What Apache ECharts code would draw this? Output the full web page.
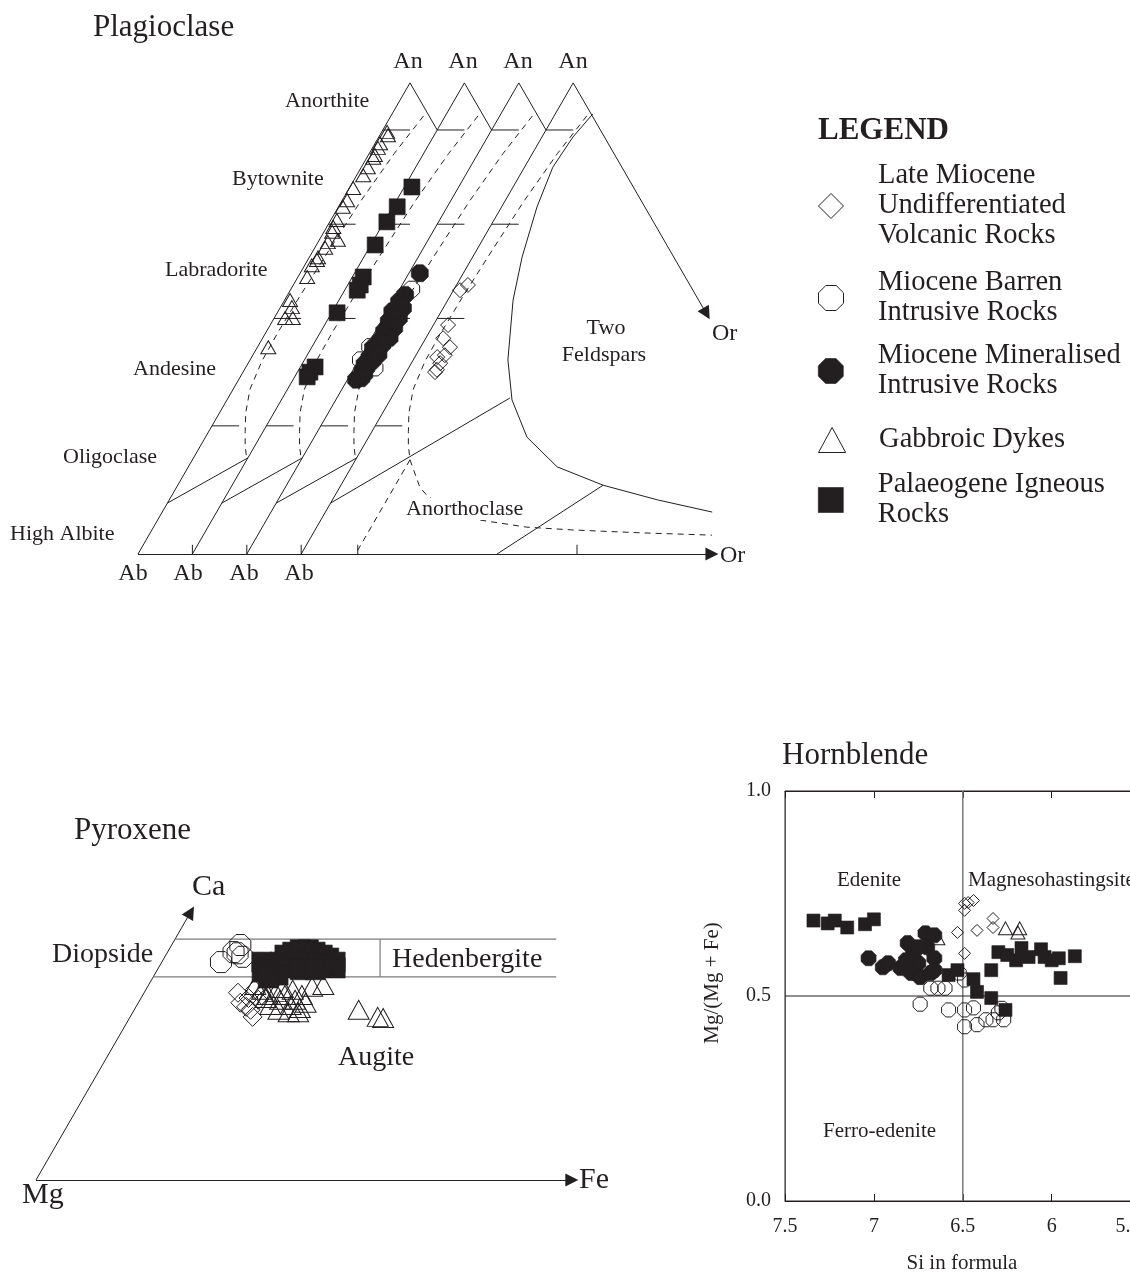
<!DOCTYPE html>
<html><head><meta charset="utf-8">
<script src="https://cdn.jsdelivr.net/npm/echarts@6/dist/echarts.min.js"></script>
<style>html,body{margin:0;padding:0;background:#fff}#c{width:1130px;height:1274px}</style>
</head><body><div id="c"></div>
<script>
// ================= DATA =================
// Plagioclase compositions [An %, Or %]; each rock group is drawn in its own offset Ab-An-Or triangle
const plagGabbroicDykes = [[89.6,1.0],[88.9,1.5],[87.2,0.9],[86.2,1.0],[84.7,1.2],[84.1,1.2],[82.1,1.2],[80.4,1.2],[77.7,0.7],[75.1,0.9],[73.7,0.8],[70.9,1.1],[69.4,1.2],[68.4,1.5],[66.7,3.4],[66.2,1.8],[65.0,1.9],[63.0,1.6],[62.4,1.7],[61.3,1.3],[58.8,1.7],[53.9,1.0],[52.4,2.1],[50.1,2.0],[50.1,3.4],[43.9,2.0]];
const plagPalaeogene = [[77.9,1.4],[73.7,0.8],[70.5,0.5],[65.6,0.8],[58.8,2.0],[57.1,2.3],[56.0,2.3],[51.2,1.0],[39.7,2.7],[38.6,2.3],[37.6,2.3]];
const plagMioMineralised = [[59.6,2.0],[55.0,1.6],[53.6,1.2],[52.9,1.7],[52.2,2.6],[51.5,1.0],[50.8,2.0],[50.1,2.9],[49.4,1.4],[48.7,2.3],[48.0,3.1],[47.3,1.6],[46.6,2.5],[45.9,3.3],[45.2,1.8],[44.5,2.7],[43.8,1.3],[43.1,2.2],[42.4,3.0],[41.7,1.7],[41.0,2.6],[40.3,1.5],[39.6,2.2],[38.9,1.8],[38.2,2.5],[37.3,2.4],[37.0,1.6]];
const plagMioBarren = [[56.2,2.2],[44.0,0.6],[41.2,0.3],[39.5,3.8]];
const plagLateMiocene = [[57.1,2.1],[56.0,1.2],[48.6,2.7],[45.8,3.2],[43.9,5.4],[42.2,5.3],[41.8,4.1],[40.5,5.3],[39.1,5.4],[38.6,5.3]];
// triangle used by each group (0 = leftmost)
const plagTriangleOf = {gab:0, pal:1, min:2, bar:2, late:3};

// Plagioclase field boundaries [An %, Or %]
const plagSolvus = [[93,6],[85,4.6],[75,3.5],[65,2.9],[55,2.4],[47,2.2],[41,2.3],[35,3.1],[30,4.8],[26,6.7],[23,8.2],[20,10]];
const plagTwoFeldspar = [[93.4,6.9],[88.5,5.7],[82.1,5.2],[73.7,6.5],[63.0,9.1],[53.9,12.0],[41.2,17.4],[32.7,22.4],[24.8,29.1],[18.5,37.8],[14.6,48.2],[11.5,59.7],[8.9,71.1]];
const plagAnorthoclaseSolvus = [[20,10],[14.2,14.7],[12.1,17.3],[7.2,29.3],[5.7,38.6],[5.1,47.4],[4.5,60.1],[4.0,73.5]];
const plagIsoOr = [[20,10],[0,10]];
const plagOligoclaseLine = [[10.8,0],[20.4,10]];
const plagOligoclaseLineLast = [[10.8,0],[33.1,21.8]];
const plagAnorthoclaseLine = [[0,36],[14.6,48.2]];
const plagClassAn = [90,70,50,27.2];
const plagBaseTicksOr = [10,20,30,40.4,80.7];

// Pyroxene compositions [Ca %, Fe %]
const pyxBarren = [[39.9,10.1],[38.5,10.4],[37.0,8.7],[37.9,11.4],[38.7,9.7]];
const pyxPalaeogene = [[35.3,15.6],[37.0,14.7],[36.2,16.0],[35.7,17.3],[37.0,17.4],[38.2,17.5],[38.7,18.4],[39.1,19.3],[39.1,20.5],[38.7,21.7],[38.2,23.0],[37.7,24.2],[37.0,25.5],[36.0,26.0],[36.5,23.9],[37.0,21.8],[37.0,20.0],[36.0,19.1],[34.8,18.2],[34.3,17.0],[35.7,21.0],[35.7,23.2]];
const pyxLateMiocene = [[31.8,13.8],[29.4,16.2],[30.1,15.0],[27.7,18.0],[28.9,17.1],[32.3,16.0],[30.6,17.4],[31.4,17.5],[30.9,15.8]];
const pyxGabbroic = [[33.1,15.7],[32.3,17.1],[31.4,18.4],[31.9,19.3],[30.6,20.6],[31.4,20.9],[29.7,22.6],[30.6,22.8],[29.2,24.2],[30.1,24.6],[29.7,19.6],[28.9,21.2],[28.5,22.9],[28.5,24.3],[30.9,18.3],[32.6,20.0],[32.3,21.6],[31.4,23.4],[32.8,24.2],[33.1,25.7],[28.9,33.0],[27.7,36.4],[27.5,37.3]];
// Pyroxene field lines [Ca %, Fe %]
const pyxCaAxis = [[0,0],[45.5,0]];
const pyxFeAxis = [[0,0],[0,78.8]];
const pyxBoxTop = [[40.9,0],[40.9,56.05]];
const pyxBoxBottom = [[34.5,0],[34.5,59.25]];
const pyxDiHd = [[34.5,33.35],[40.9,30.15]];

// Hornblende [Si in formula, Mg/(Mg+Fe)]
const hblPalaeogene = [[7.34,0.684],[7.26,0.677],[7.22,0.684],[7.15,0.667],[7.05,0.675],[7.00,0.687],[6.58,0.551],[6.53,0.563],[6.44,0.541],[6.42,0.51],[6.34,0.495],[6.26,0.466],[6.34,0.563],[6.30,0.607],[6.25,0.600],[6.20,0.587],[6.17,0.617],[6.13,0.595],[6.06,0.614],[6.04,0.595],[6.00,0.587],[5.96,0.592],[5.87,0.597],[5.95,0.544]];
const hblMineralised = [[7.03,0.592],[6.95,0.570],[6.92,0.580],[6.85,0.568],[6.81,0.629],[6.78,0.604],[6.75,0.580],[6.71,0.653],[6.66,0.648],[6.70,0.619],[6.66,0.592],[6.79,0.556],[6.74,0.546],[6.68,0.556],[6.66,0.563],[6.82,0.587],[6.75,0.619]];
const hblBarren = [[6.74,0.48],[6.68,0.519],[6.64,0.519],[6.60,0.519],[6.58,0.466],[6.49,0.466],[6.44,0.471],[6.49,0.425],[6.42,0.43],[6.37,0.442],[6.33,0.442],[6.27,0.442],[6.30,0.459],[6.52,0.556],[6.49,0.539],[6.28,0.47]];
const hblLateMiocene = [[6.49,0.726],[6.47,0.728],[6.44,0.733],[6.49,0.709],[6.53,0.655],[6.42,0.66],[6.33,0.689],[6.33,0.667],[6.49,0.604]];
const hblGabbroic = [[6.26,0.665],[6.18,0.665],[6.19,0.655],[6.64,0.641]];
const hblSiDivide = 6.5, hblMgDivide = 0.5;

// ================= STYLE / LAYOUT =================
const FONT = '"Liberation Serif","Times New Roman",serif';
const INK = '#231f20';
const SIN60 = Math.sqrt(3) / 2;
const NAMES = {
  late: 'Late Miocene Undifferentiated Volcanic Rocks',
  bar: 'Miocene Barren Intrusive Rocks',
  min: 'Miocene Mineralised Intrusive Rocks',
  gab: 'Gabbroic Dykes',
  pal: 'Palaeogene Igneous Rocks'
};
const LEGEND_TEXT = {};
LEGEND_TEXT[NAMES.late] = 'Late Miocene\nUndifferentiated\nVolcanic Rocks';
LEGEND_TEXT[NAMES.bar] = 'Miocene Barren\nIntrusive Rocks';
LEGEND_TEXT[NAMES.min] = 'Miocene Mineralised\nIntrusive Rocks';
LEGEND_TEXT[NAMES.gab] = 'Gabbroic Dykes';
LEGEND_TEXT[NAMES.pal] = 'Palaeogene Igneous\nRocks';
const OCT = 'path://M29.3,0 L70.7,0 L100,29.3 L100,70.7 L70.7,100 L29.3,100 L0,70.7 L0,29.3 Z';
const SYM = {late: 'diamond', bar: OCT, min: OCT, gab: 'triangle', pal: 'rect'};
const ICON = {
  late: 'path://M50,0 L100,50 L50,100 L0,50 Z',
  bar: OCT, min: OCT,
  gab: 'path://M50,0 L100,92 L0,92 Z',
  pal: 'path://M0,0 L100,0 L100,100 L0,100 Z'
};
const FILLED = {late:false, bar:false, min:true, gab:false, pal:true};
function itemStyle(key) {
  return FILLED[key] ? {color: INK, borderColor: INK, borderWidth: 0.6, opacity: 1}
                     : {color: 'rgba(255,255,255,0)', borderColor: INK, borderWidth: 1, opacity: 1};
}

const plagXY = (an, or, k) => [10 * k + or + an / 2, an * SIN60];
const pyxXY = (ca, fe) => [fe + ca / 2, ca * SIN60];

// ---------- plagioclase line work ----------
const plagSolid = [];
const plagDashed = [];
for (let k = 0; k < 4; k++) {
  plagSolid.push({coords: [plagXY(0, 0, k), plagXY(100, 0, k)]});
  if (k < 3) {
    plagSolid.push({coords: [plagXY(100, 0, k), plagXY(90, 10, k)]});
    plagSolid.push({coords: plagOligoclaseLine.map(p => plagXY(p[0], p[1], k))});
  }
  plagClassAn.forEach(an => plagSolid.push({coords: [plagXY(an, 0, k), plagXY(an, 5, k)]}));
  plagDashed.push({coords: plagSolvus.map(p => plagXY(p[0], p[1], k))});
}
plagSolid.push({coords: plagOligoclaseLineLast.map(p => plagXY(p[0], p[1], 3))});
plagSolid.push({coords: plagAnorthoclaseLine.map(p => plagXY(p[0], p[1], 3))});
plagSolid.push({coords: plagTwoFeldspar.map(p => plagXY(p[0], p[1], 3))});
plagBaseTicksOr.forEach(o => plagSolid.push({coords: [plagXY(0, o, 0), [o, 1.7]]}));
plagDashed.push({coords: plagAnorthoclaseSolvus.map(p => plagXY(p[0], p[1], 3))});
plagDashed.push({coords: plagIsoOr.map(p => plagXY(p[0], p[1], 3))});
const plagArrows = [
  {coords: [plagXY(100, 0, 3), plagXY(51, 49, 3)]},
  {coords: [plagXY(0, 0, 0), plagXY(0, 75.5, 3)]}
];

// ---------- pyroxene line work ----------
const pyxArrows = [pyxCaAxis, pyxFeAxis].map(l => ({coords: l.map(p => pyxXY(p[0], p[1]))}));
const pyxBox = [pyxBoxTop, pyxBoxBottom, pyxDiHd].map(l => ({coords: l.map(p => pyxXY(p[0], p[1]))}));

// ---------- series ----------
const series = [];
function linesSeries(data, grid, opts) {
  return Object.assign({
    type: 'lines', coordinateSystem: 'cartesian2d', xAxisIndex: grid, yAxisIndex: grid,
    polyline: true, silent: true, clip: false, symbol: 'none', z: 1,
    lineStyle: {color: INK, width: 1, opacity: 1}, data
  }, opts || {});
}
series.push(linesSeries(plagSolid, 0));
series.push(linesSeries(plagDashed, 0, {lineStyle: {color: INK, width: 1, type: [6, 5], opacity: 1}}));
series.push(linesSeries(plagArrows, 0, {polyline: false, symbol: ['none', 'triangle'], symbolSize: [0, 13]}));
series.push(linesSeries(pyxArrows, 1, {polyline: false, symbol: ['none', 'triangle'], symbolSize: [0, 13]}));
series.push(linesSeries(pyxBox, 1, {lineStyle: {color: '#7a7a7a', width: 1.2, opacity: 1}}));

function scatter(key, grid, pts, size) {
  series.push({
    type: 'scatter', name: NAMES[key], xAxisIndex: grid, yAxisIndex: grid,
    symbol: SYM[key], symbolSize: size, clip: false, silent: true, z: 3,
    itemStyle: itemStyle(key), data: pts
  });
}
const plagPts = (arr, key) => arr.map(p => plagXY(p[0], p[1], plagTriangleOf[key]));
scatter('gab', 0, plagPts(plagGabbroicDykes, 'gab'), [15, 13]);
scatter('pal', 0, plagPts(plagPalaeogene, 'pal'), 16);
scatter('min', 0, plagPts(plagMioMineralised, 'min'), 17);
scatter('bar', 0, plagPts(plagMioBarren, 'bar'), 16);
scatter('late', 0, plagPts(plagLateMiocene, 'late'), 15);

const pyxPts = arr => arr.map(p => pyxXY(p[0], p[1]));
scatter('late', 1, pyxPts(pyxLateMiocene), 19);
scatter('bar', 1, pyxPts(pyxBarren), 21);
scatter('gab', 1, pyxPts(pyxGabbroic), [21, 19]);
scatter('pal', 1, pyxPts(pyxPalaeogene), 20);

series.push({
  type: 'line', xAxisIndex: 2, yAxisIndex: 2, symbol: 'none', silent: true, z: 1,
  lineStyle: {color: '#7a7a7a', width: 1.5}, data: [[hblSiDivide, 0], [hblSiDivide, 1]]
});
series.push({
  type: 'line', xAxisIndex: 2, yAxisIndex: 2, symbol: 'none', silent: true, z: 1,
  lineStyle: {color: INK, width: 1}, data: [[7.5, hblMgDivide], [5.5, hblMgDivide]]
});
scatter('bar', 2, hblBarren, 14);
scatter('min', 2, hblMineralised, 15);
scatter('late', 2, hblLateMiocene, 12);
scatter('gab', 2, hblGabbroic, [14, 13]);
scatter('pal', 2, hblPalaeogene, 13);

// ---------- texts ----------
function T(text, x, y, size, opt) {
  opt = opt || {};
  const st = {text, fontFamily: FONT, fontSize: size, fontWeight: opt.bold ? 'bold' : 'normal',
              fill: INK, align: opt.align || 'left', verticalAlign: 'middle'};
  if (opt.bg) { st.backgroundColor = '#fff'; st.padding = [0, 1]; }
  return {type: 'text', x, y, rotation: opt.rot || 0, silent: true, z: 10, style: st};
}
const texts = [
  T('Plagioclase', 93, 28, 31),
  T('An', 408, 62, 24, {align: 'center'}), T('An', 463, 62, 24, {align: 'center'}),
  T('An', 518, 62, 24, {align: 'center'}), T('An', 573, 62, 24, {align: 'center'}),
  T('Anorthite', 285, 101, 22), T('Bytownite', 232, 179, 22), T('Labradorite', 165, 270, 22),
  T('Andesine', 133, 369, 22), T('Oligoclase', 63, 457, 22), T('High Albite', 10, 534, 22),
  T('Ab', 133, 574, 24, {align: 'center'}), T('Ab', 188, 574, 24, {align: 'center'}),
  T('Ab', 244, 574, 24, {align: 'center'}), T('Ab', 299, 574, 24, {align: 'center'}),
  T('Or', 720, 556, 24), T('Or', 712, 334, 24),
  T('Two', 606, 328, 22, {align: 'center'}), T('Feldspars', 604, 355, 22, {align: 'center'}),
  T('Anorthoclase', 405, 509, 22, {bg: true}),
  T('LEGEND', 818, 131, 31, {bold: true}),
  T('Pyroxene', 74, 831, 31),
  T('Ca', 192, 887, 30), T('Diopside', 52, 955, 28), T('Hedenbergite', 392, 960, 28),
  T('Augite', 338, 1058, 28), T('Fe', 579, 1180, 30), T('Mg', 22, 1195, 30),
  T('Hornblende', 782, 756, 31),
  T('Edenite', 837, 880, 21), T('Magnesohastingsite', 968, 880, 21), T('Ferro-edenite', 823, 1131, 21),
  T('Mg/(Mg + Fe)', 712, 983, 21, {rot: Math.PI / 2, align: 'center'}),
  T('Si in formula', 962, 1263, 21, {align: 'center'})
];

// ---------- legends ----------
const legendOrder = [['late', 3, 206], ['bar', 2, 298], ['min', 2, 371], ['gab', 1, 440], ['pal', 2, 500]];
const LH = 30;
const legends = legendOrder.map(([key, lines, cy]) => ({
  left: 818, top: cy - lines * LH / 2, padding: 0, orient: 'vertical',
  itemWidth: 84, itemHeight: 25, selectedMode: false,
  data: [{name: NAMES[key], icon: ICON[key]}],
  formatter: n => LEGEND_TEXT[n],
  itemStyle: itemStyle(key),
  textStyle: {fontFamily: FONT, fontSize: 28.5, lineHeight: LH, color: INK}
}));

const axisFont = {fontFamily: FONT, fontSize: 20, color: INK};
const option = {
  backgroundColor: '#fff',
  animation: false,
  legend: legends,
  grid: [
    {left: 138, top: 554 - 5.44 * 90, width: 5.44 * 110, height: 5.44 * 90, outerBoundsMode: 'none', containLabel: false},
    {left: 36, top: 1180 - 6.8 * 50, width: 6.8 * 85, height: 6.8 * 50, outerBoundsMode: 'none', containLabel: false},
    {left: 785, top: 791, width: 355.6, height: 410, show: true, borderColor: INK, borderWidth: 1,
     outerBoundsMode: 'none', containLabel: false}
  ],
  xAxis: [
    {gridIndex: 0, type: 'value', min: 0, max: 110, show: false},
    {gridIndex: 1, type: 'value', min: 0, max: 85, show: false},
    {gridIndex: 2, type: 'value', min: 5.5, max: 7.5, interval: 0.5, inverse: true,
     axisLine: {lineStyle: {color: INK}}, axisTick: {inside: true, length: 7, lineStyle: {color: INK}},
     splitLine: {show: false}, axisLabel: Object.assign({margin: 16, alignMinLabel: 'right'}, axisFont)},
    {gridIndex: 2, type: 'value', min: 5.5, max: 7.5, interval: 0.5, inverse: true, position: 'top',
     axisLine: {lineStyle: {color: INK}}, axisTick: {inside: true, length: 7, lineStyle: {color: INK}},
     splitLine: {show: false}, axisLabel: {show: false}}
  ],
  yAxis: [
    {gridIndex: 0, type: 'value', min: 0, max: 90, show: false},
    {gridIndex: 1, type: 'value', min: 0, max: 50, show: false},
    {gridIndex: 2, type: 'value', min: 0, max: 1, interval: 0.5,
     axisLine: {show: true, lineStyle: {color: '#555'}}, axisTick: {show: false},
     splitLine: {show: false},
     axisLabel: Object.assign({margin: 14, formatter: v => v.toFixed(1)}, axisFont)}
  ],
  graphic: {elements: texts},
  series
};
const chart = echarts.init(document.getElementById('c'), null, {renderer: 'canvas'});
chart.setOption(option);
</script>
</body></html>
